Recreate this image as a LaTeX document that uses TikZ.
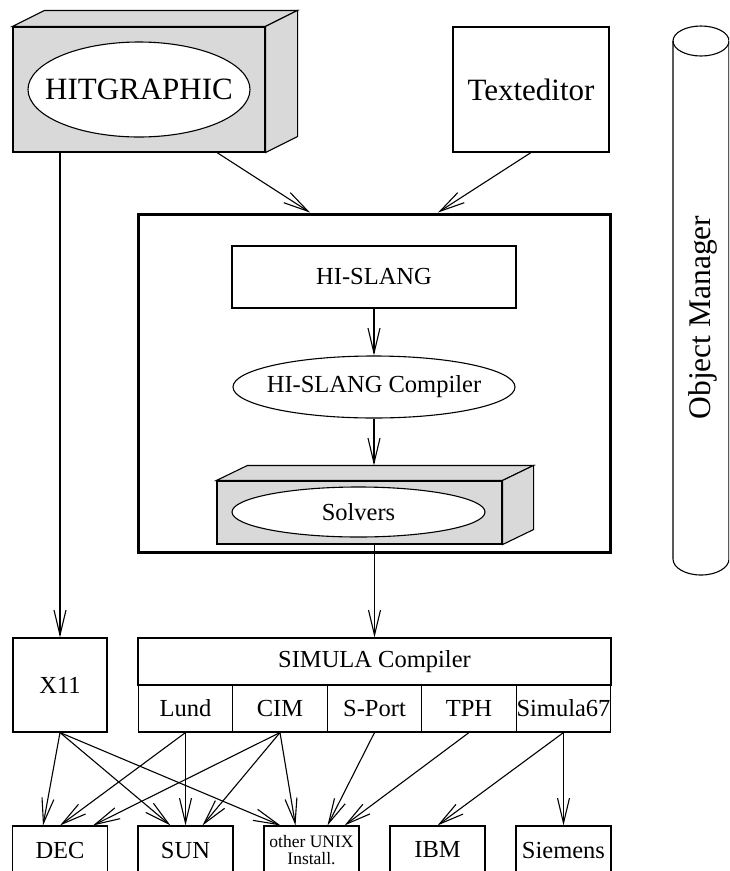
\documentclass[tikz,border=0pt]{standalone}
\usepackage{fontspec}
\setmainfont{Liberation Serif}
\usetikzlibrary{arrows.meta,shapes.geometric}
\definecolor{boxgray}{RGB}{217,217,217}

\begin{document}
\begin{tikzpicture}[x=1pt, y=-1pt, line width=1.1pt,
  plainbox/.style={draw, rectangle, inner sep=0pt},
  solid3d/.style={draw, fill=boxgray, rectangle, inner sep=0pt},
  face/.style={draw, fill=boxgray, line join=miter},
  oval/.style={draw, fill=white, ellipse, inner sep=0pt},
  cell/.style={plainbox, midfont, minimum width=94.6pt, minimum height=47pt},
  target/.style={plainbox, midfont, minimum width=95pt, minimum height=48pt},
  link/.style={-{Straight Barb[length=25pt, width=12pt]}},
  bigfont/.style={font=\fontsize{31}{37}\selectfont},
  midfont/.style={font=\fontsize{24.5}{29}\selectfont}]
	\useasboundingbox (0,0) rectangle (729,871);
	\clip (0,0) rectangle (729,871);
	% editors on top
	\node[solid3d, minimum width=252pt, minimum height=125pt] (hitgbox) at (139,89.5) {};
	\draw[face] (hitgbox.north west) -- ++(32pt,16pt) -- ([shift={(32pt,16pt)}]hitgbox.north east) -- (hitgbox.north east) -- cycle;
	\draw[face] (hitgbox.north east) -- ++(32pt,16pt) -- ([shift={(32pt,16pt)}]hitgbox.south east) -- (hitgbox.south east) -- cycle;
	\draw[fill=white] (hitgbox.center) ellipse [x radius=111pt, y radius=47.5pt];
	\node[bigfont, inner sep=0pt] (hitg) at (hitgbox) {HITGRAPHIC};
	\node[plainbox, bigfont, minimum width=156pt, minimum height=125pt] (texted) at (531,89.5) {Texteditor};
	% HI-SLANG frame
	\node[plainbox, line width=3pt, minimum width=472pt, minimum height=338pt] (core) at (374,383) {};
	\node[plainbox, midfont, minimum width=284pt, minimum height=62pt] (hislang) at (374,277) {HI-SLANG};
	\node[oval, minimum width=282pt, minimum height=62pt, label={[midfont]center:HI-SLANG Compiler}] (compiler) at (374,387) {};
	\node[solid3d, minimum width=285pt, minimum height=63pt] (solvbox) at (359.5,512.5) {};
	\draw[face] (solvbox.north west) -- ++(31pt,15pt) -- ([shift={(31pt,15pt)}]solvbox.north east) -- (solvbox.north east) -- cycle;
	\draw[face] (solvbox.north east) -- ++(31pt,15pt) -- ([shift={(31pt,15pt)}]solvbox.south east) -- (solvbox.south east) -- cycle;
	\node[oval, minimum width=253pt, minimum height=50pt, label={[midfont]center:Solvers}] (solvers) at (358.5,512) {};
	\coordinate (solvback) at ([yshift=15pt]solvbox.north);
	% object manager
	\draw (673,41) -- (673,559) arc[start angle=180, end angle=360, x radius=28pt, y radius=16pt] -- (729,41);
	\draw (701,41) ellipse [x radius=28pt, y radius=15pt];
	\node[rotate=90, inner sep=0pt, font=\fontsize{31.5}{38}\selectfont] (objmgr) at (703,317.5) {Object Manager};
	% compilers and platforms
	\node[plainbox, midfont, minimum width=94pt, minimum height=94pt] (x11) at (60,685) {X11};
	\node[plainbox, midfont, minimum width=473pt, minimum height=47pt] (simula) at (374.5,661.5) {SIMULA Compiler};
	\node[cell] (lund) at (185.5,708.5) {Lund};
	\node[cell] (cim) at (280,708.5) {CIM};
	\node[cell] (sport) at (374.5,708.5) {S-Port};
	\node[cell] (tph) at (469,708.5) {TPH};
	\node[cell] (sim67) at (563.5,708.5) {Simula67};
	\node[target] (dec) at (60,850) {DEC};
	\node[target] (sun) at (185.5,850) {SUN};
	\node[target, align=center, font=\fontsize{17.5}{17}\selectfont] (unix) at (311.5,850) {other UNIX\\Install.};
	\node[target] (ibm) at (437.5,850) {IBM};
	\node[target] (siemens) at (563.5,850) {Siemens};
	% connectors
	\draw[link] ([xshift=-79pt]hitgbox.south) -- (x11.north);
	\draw[link] ([xshift=78pt]hitgbox.south) -- ([xshift=-64pt]core.north);
	\draw[link] (texted.south) -- ([xshift=64pt]core.north);
	\draw[link] (hislang.south) -- (compiler.north);
	\draw[link] (compiler.south) -- (compiler.south |- solvback);
	\draw[link] (simula.north |- solvbox.south) -- (simula.north);
	\draw[link] (x11.south) -- ([xshift=-17pt]dec.north);
	\draw[link] (x11.south) -- ([xshift=-15pt]sun.north);
	\draw[link] (x11.south) -- ([xshift=-31pt]unix.north);
	\draw[link] (lund.south) -- (dec.north);
	\draw[link] (lund.south) -- (sun.north);
	\draw[link] (cim.south) -- ([xshift=33pt]dec.north);
	\draw[link] (cim.south) -- ([xshift=17pt]sun.north);
	\draw[link] (cim.south) -- ([xshift=-16pt]unix.north);
	\draw[link] (sport.south) -- ([xshift=16pt]unix.north);
	\draw[link] (tph.south) -- ([xshift=33pt]unix.north);
	\draw[link] (sim67.south) -- (ibm.north);
	\draw[link] (sim67.south) -- (siemens.north);
\end{tikzpicture}
\end{document}
